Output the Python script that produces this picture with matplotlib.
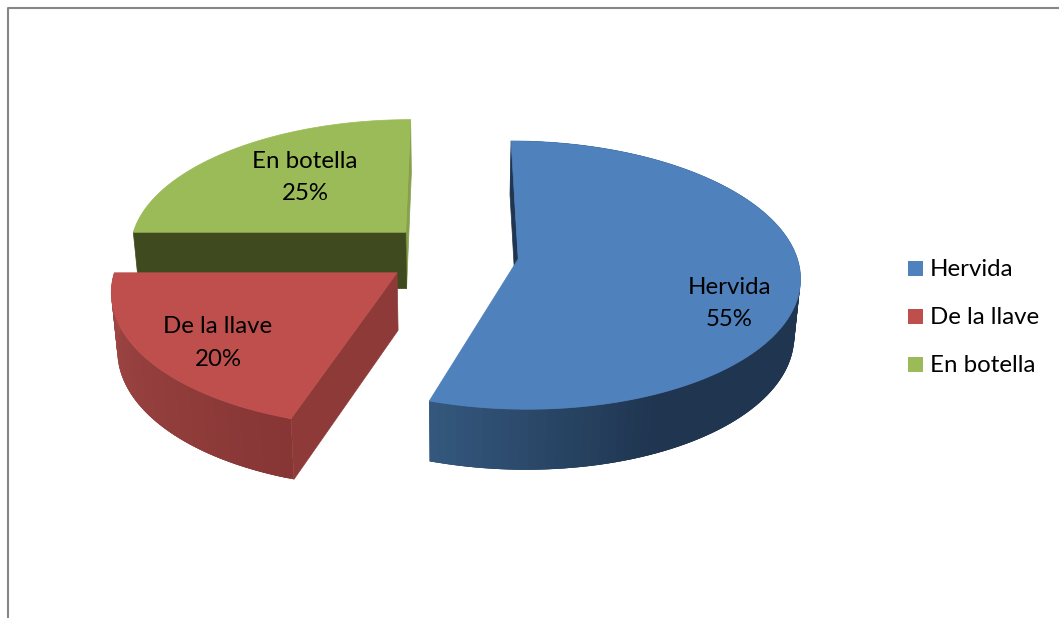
import math
import numpy as np
import matplotlib
matplotlib.use("Agg")
import matplotlib.pyplot as plt
from matplotlib.collections import PolyCollection
from matplotlib.colors import to_rgb

plt.rcParams['font.family'] = ['Lato', 'DejaVu Sans']

categories = ["Hervida", "De la llave", "En botella"]
values = [55, 20, 25]
top_colors = ["#4F81BD", "#BE4F4C", "#9BBB59"]

# wall shading: dark end and light end of each outer wall
wall_colors = ["#1F3550", "#A04846", "#3F4A1F"]
wall_far = ["#35597F", "#873635", "#3F4A1F"]
side_colors = ["#1F3550", "#8E3A38", "#86A04C"]

label_pos = [(729, 287), (218, 326.5), (305, 161)]

# projection of the pie plane to pixels
x0, y0 = 452, 254
ax_x, ax_y = 278, 131
persp = 0.12
explode = 0.24
depth = 57
shrink = 0.982


def project(u, v, low=False):
    w = 1 + persp * v
    x = ax_x * u / w
    y = y0 - ax_y * v / w
    if low:
        x = x * shrink
        y = y + depth * (1 - 0.06 * v)
    return x0 + x, y


def point(t, r, mid, low=False):
    u = explode * math.sin(mid) + r * math.sin(t)
    v = explode * math.cos(mid) + r * math.cos(t)
    return project(u, v, low)


def slice_angles(i):
    start = sum(values[:i]) / sum(values) * 2 * math.pi
    end = sum(values[:i + 1]) / sum(values) * 2 * math.pi
    return start, end


def draw_quad(ax, t, mid, color, z):
    pts = [point(t, 0, mid), point(t, 1, mid), point(t, 1, mid, True), point(t, 0, mid, True)]
    ax.add_patch(plt.Polygon(pts, fc=color, ec=color, lw=0.5, zorder=z))


def draw_wall(ax, i, z):
    start, end = slice_angles(i)
    mid = (start + end) / 2
    ts = np.linspace(start, end, 120)
    polys = []
    cols = []
    near = np.array(to_rgb(wall_far[i]))
    far = np.array(to_rgb(wall_colors[i]))
    for k in range(len(ts) - 1):
        a = ts[k]
        # each strip runs on under the next one so no seams show
        b = ts[min(k + 3, len(ts) - 1)]
        polys.append([point(a, 1, mid), point(b, 1, mid), point(b, 1, mid, True), point(a, 1, mid, True)])
        if i == 0:
            f = min(1, max(0, (a - math.radians(155)) / math.radians(43)))
            cols.append(far + (near - far) * f)
        else:
            f = (a - start) / (end - start)
            cols.append(near + (far - near) * f)
    ax.add_collection(PolyCollection(polys, facecolors=cols, edgecolors="none", zorder=z))


def draw_top(ax, i, z):
    start, end = slice_angles(i)
    mid = (start + end) / 2
    ts = np.linspace(start, end, 150)
    pts = [point(0, 0, mid)] + [point(t, 1, mid) for t in ts]
    ax.add_patch(plt.Polygon(pts, fc=top_colors[i], ec=top_colors[i], lw=0.5, zorder=z))


fig = plt.figure(figsize=(10.61, 6.18), dpi=100)
ax = fig.add_axes([0, 0, 1, 1])
ax.set_xlim(0, 1061)
ax.set_ylim(618, 0)
ax.axis("off")

ax.plot([8, 8, 1058], [618, 7.5, 7.5], color="#868686", lw=1.5, zorder=1)

# green, behind everything
start, end = slice_angles(2)
mid = (start + end) / 2
draw_quad(ax, end, mid, side_colors[2], 2)
draw_quad(ax, start, mid, wall_colors[2], 3)
draw_top(ax, 2, 4)

# red
start, end = slice_angles(1)
mid = (start + end) / 2
draw_wall(ax, 1, 5)
draw_quad(ax, start, mid, side_colors[1], 6)
draw_top(ax, 1, 7)

# blue
start, end = slice_angles(0)
mid = (start + end) / 2
draw_quad(ax, start, mid, side_colors[0], 5)
draw_wall(ax, 0, 5)
draw_top(ax, 0, 7)

for name, val, (lx, ly) in zip(categories, values, label_pos):
    ax.text(lx, ly, name, fontsize=17.3, color="black", ha="center", va="center", zorder=10)
    ax.text(lx, ly + 33, f"{val}%", fontsize=17.3, color="black", ha="center", va="center", zorder=10)

for i, name in enumerate(categories):
    yc = 268.5 + 48 * i
    ax.add_patch(plt.Rectangle((908, yc - 7.5), 15, 15, fc=top_colors[i], ec="none", zorder=10))
    ax.text(930, yc + 1, name, fontsize=17.3, color="black", ha="left", va="center", zorder=10)

fig.savefig("out.png", dpi=100)
